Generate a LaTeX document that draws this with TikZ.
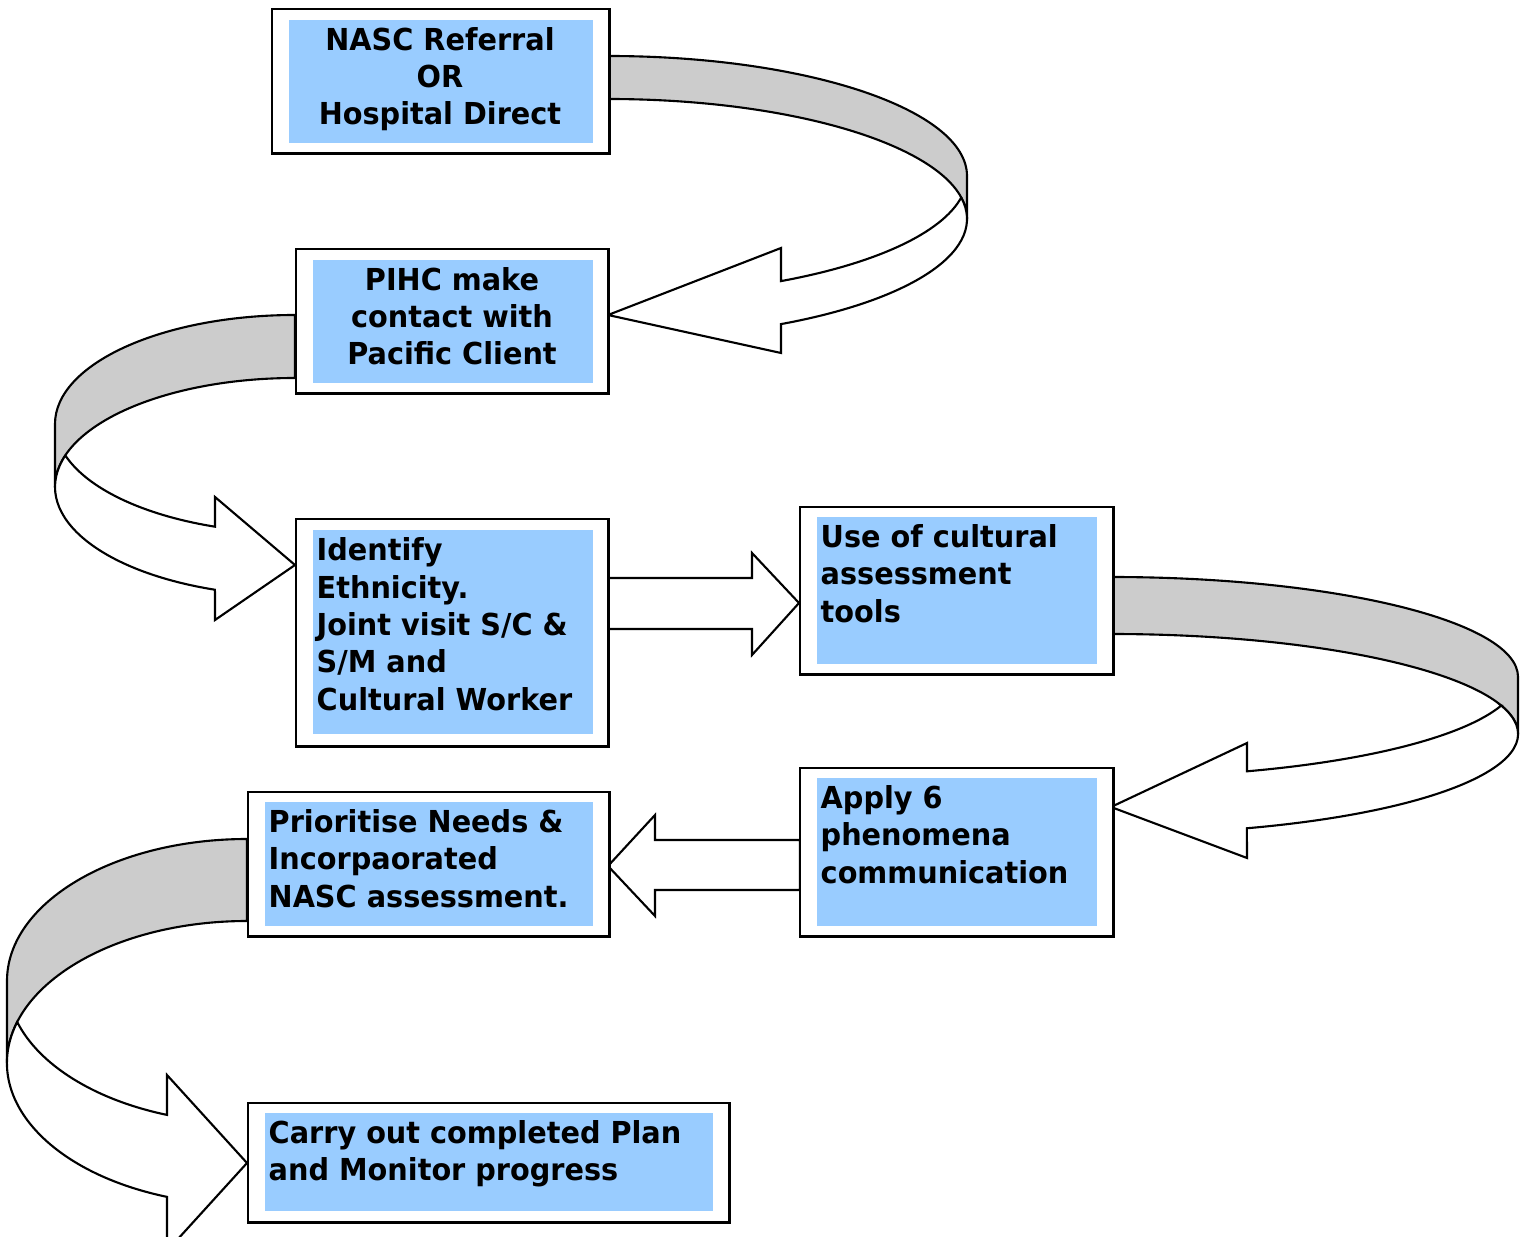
\documentclass[tikz,border=0pt]{standalone}
\usepackage{fontspec}
\setmainfont{DejaVu Sans}[FakeStretch=0.95]
\definecolor{panelblue}{HTML}{99CCFF}
\definecolor{ribbongray}{HTML}{CCCCCC}
\begin{document}
\begin{tikzpicture}[x=0.01cm, y=-0.01cm,
    frame/.style={draw, fill=white, line width=0.7pt, inner sep=0pt, anchor=north west},
    panel/.style={fill=panelblue, inner sep=0pt, anchor=north west},
    txt/.style={inner sep=0pt, font=\bfseries\fontsize{8.6}{10.6}\selectfont},
    ribbon/.style={draw, fill=ribbongray, line width=0.6pt, line join=round},
    blockarrow/.style={draw, fill=white, line width=0.6pt}]
  \useasboundingbox (0,0) rectangle (1531,1237);

  % curved arrows (back ribbon, then front with head)
  \draw[ribbon] (608,56) arc[start angle=-90, end angle=0, x radius=359, y radius=120] -- (967,219)
        arc[start angle=0, end angle=-90, x radius=359, y radius=120] -- cycle;
  \draw[blockarrow] (961.2,197.5) arc[start angle=-10.3, end angle=61.2, x radius=359, y radius=120]
        -- (781,353) -- (608,315) -- (781,248) -- (781,281.1)
        arc[start angle=61.2, end angle=10.3, x radius=359, y radius=120] -- cycle;

  \draw[ribbon] (295,315) arc[start angle=-90, end angle=-180, x radius=240, y radius=109] -- (55,487)
        arc[start angle=180, end angle=270, x radius=240, y radius=109] -- cycle;
  \draw[blockarrow] (65.3,455.5) arc[start angle=196.8, end angle=109.5, x radius=240, y radius=109]
        -- (215,620) -- (295,565) -- (215,497) -- (215,526.7)
        arc[start angle=109.5, end angle=163.2, x radius=240, y radius=109] -- cycle;

  \draw[ribbon] (1111,577) arc[start angle=-90, end angle=0, x radius=407, y radius=100] -- (1518,734)
        arc[start angle=0, end angle=-90, x radius=407, y radius=100] -- cycle;
  \draw[blockarrow] (1501.1,705.5) arc[start angle=-16.56, end angle=70.5, x radius=407, y radius=100]
        -- (1247,858) -- (1111,807) -- (1247,743) -- (1247,771.3)
        arc[start angle=70.5, end angle=16.56, x radius=407, y radius=100] -- cycle;

  \draw[ribbon] (247,839) arc[start angle=-90, end angle=-180, x radius=240, y radius=142] -- (7,1063)
        arc[start angle=180, end angle=270, x radius=240, y radius=142] -- cycle;
  \draw[blockarrow] (17.2,1022) arc[start angle=196.78, end angle=109.47, x radius=240, y radius=142]
        -- (167,1251) -- (247,1163) -- (167,1075) -- (167,1114.9)
        arc[start angle=109.47, end angle=163.22, x radius=240, y radius=142] -- cycle;

  % straight arrows
  \draw[blockarrow] (608,578) -- (752,578) -- (752,553) -- (799,603) -- (752,655) -- (752,629) -- (608,629) -- cycle;
  \draw[blockarrow] (800,840) -- (655,840) -- (655,815) -- (608,866) -- (655,916) -- (655,890) -- (800,890) -- cycle;

  % boxes (text placed by the baseline of its last line)
  \node[frame, minimum width=3.37cm, minimum height=1.44cm] (b1) at (271,8) {};
  \node[panel, minimum width=3.04cm, minimum height=1.23cm] (p1) at (288,19) {};
  \node[txt, anchor=base, align=center] (t1) at (440,125) {NASC Referral\\OR\\Hospital Direct};

  \node[frame, minimum width=3.12cm, minimum height=1.44cm] (b2) at (295,248) {};
  \node[panel, minimum width=2.80cm, minimum height=1.23cm] (p2) at (312,259) {};
  \node[txt, anchor=base, align=center] (t2) at (452,365) {PIHC make\\contact with\\Pacific Client};

  \node[frame, minimum width=3.12cm, minimum height=2.27cm] (b3) at (295,518) {};
  \node[panel, minimum width=2.80cm, minimum height=2.04cm] (p3) at (312,529) {};
  \node[txt, anchor=base west, align=left] (t3) at (316,710) {Identify\\Ethnicity.\\Joint visit S/C \&\\S/M and\\Cultural Worker};

  \node[frame, minimum width=3.13cm, minimum height=1.67cm] (b4) at (799,506) {};
  \node[panel, minimum width=2.80cm, minimum height=1.47cm] (p4) at (816,516) {};
  \node[txt, anchor=base west, align=left] (t4) at (820,622) {Use of cultural\\assessment\\tools};

  \node[frame, minimum width=3.13cm, minimum height=1.68cm] (b5) at (799,767) {};
  \node[panel, minimum width=2.80cm, minimum height=1.48cm] (p5) at (816,777) {};
  \node[txt, anchor=base west, align=left] (t5) at (820,883) {Apply 6\\phenomena\\communication};

  \node[frame, minimum width=3.61cm, minimum height=1.44cm] (b6) at (247,791) {};
  \node[panel, minimum width=3.28cm, minimum height=1.24cm] (p6) at (264,801) {};
  \node[txt, anchor=base west, align=left] (t6) at (268,907) {Prioritise Needs \&\\Incorpaorated\\NASC assessment.};

  \node[frame, minimum width=4.81cm, minimum height=1.19cm] (b7) at (247,1102) {};
  \node[panel, minimum width=4.48cm, minimum height=0.98cm] (p7) at (264,1112) {};
  \node[txt, anchor=base west, align=left] (t7) at (268,1180.5) {Carry out completed Plan\\and Monitor progress};
\end{tikzpicture}
\end{document}
